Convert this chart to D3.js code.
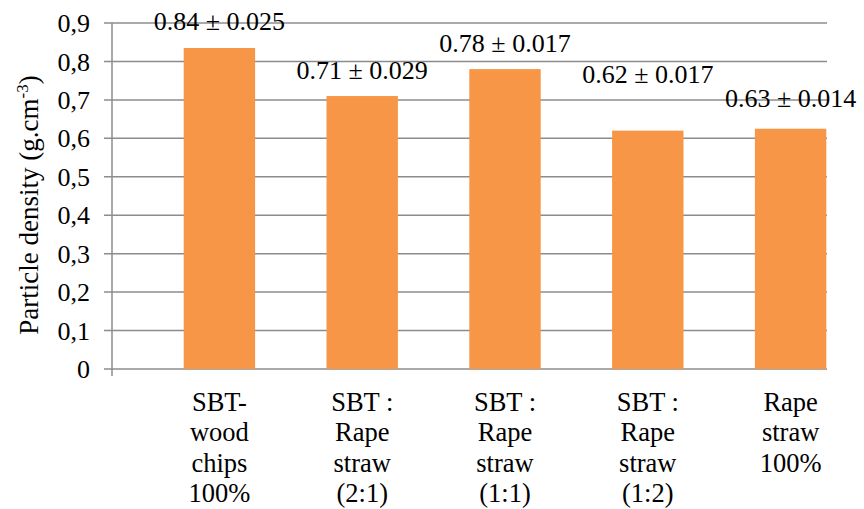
<!DOCTYPE html>
<meta charset="utf-8">
<script src="https://d3js.org/d3.v7.min.js"></script>
<style>
body { margin: 0; background: #fff; }
</style>
<div id="chart"></div>
<script>
// data
var categories = [
  ["SBT-", "wood", "chips", "100%"],
  ["SBT :", "Rape", "straw", "(2:1)"],
  ["SBT :", "Rape", "straw", "(1:1)"],
  ["SBT :", "Rape", "straw", "(1:2)"],
  ["Rape", "straw", "100%"]
];
var density = [0.835, 0.71, 0.78, 0.62, 0.625];
var labels = ["0.84 \u00b1 0.025", "0.71 \u00b1 0.029", "0.78 \u00b1 0.017", "0.62 \u00b1 0.017", "0.63 \u00b1 0.014"];
var yTicks = [0, 0.1, 0.2, 0.3, 0.4, 0.5, 0.6, 0.7, 0.8, 0.9];

// label lift above the bar top (px), as the labels were placed by hand
var labelLift = [18, 17, 17, 48, 22];

var font = "'Liberation Serif'";
var width = 864, height = 509;
var svg = d3.select("#chart").append("svg")
    .attr("width", width)
    .attr("height", height);

var axisX = 112, gridRight = 827;

var x = d3.scaleBand()
    .domain(d3.range(categories.length))
    .range([148, 862])
    .paddingInner(0.5)
    .paddingOuter(0.25);

var y = d3.scaleLinear()
    .domain([0, 0.9])
    .range([369, 23]);

// gridlines + ticks
svg.append("g").selectAll("line")
  .data(yTicks)
  .enter().append("line")
    .attr("x1", axisX - 8)
    .attr("x2", gridRight)
    .attr("y1", function(d) { return y(d); })
    .attr("y2", function(d) { return y(d); })
    .attr("stroke", "#8c8c8c")
    .attr("stroke-width", 1.5);

// tick labels
svg.append("g").selectAll("text")
  .data(yTicks)
  .enter().append("text")
    .attr("x", 90)
    .attr("y", function(d) { return y(d); })
    .attr("dy", "0.35em")
    .attr("text-anchor", "end")
    .style("font-family", font)
    .style("font-size", "26px")
    .text(function(d) { return d3.format(".1f")(d).replace(".", ",").replace(/^0,0$/, "0"); });

// bars
svg.append("g").selectAll("rect")
  .data(density)
  .enter().append("rect")
    .attr("x", function(d, i) { return x(i); })
    .attr("width", x.bandwidth())
    .attr("y", function(d) { return y(d); })
    .attr("height", function(d) { return y(0) - y(d); })
    .attr("fill", "#f79646");

// y axis line
svg.append("line")
    .attr("x1", axisX).attr("x2", axisX)
    .attr("y1", y(0.9)).attr("y2", y(0) + 7)
    .attr("stroke", "#8c8c8c")
    .attr("stroke-width", 1.5);

// value labels
svg.append("g").selectAll("text")
  .data(labels)
  .enter().append("text")
    .attr("x", function(d, i) { return x(i) + x.bandwidth() / 2; })
    .attr("y", function(d, i) { return y(density[i]) - labelLift[i]; })
    .attr("text-anchor", "middle")
    .style("font-family", font)
    .style("font-size", "26px")
    .text(function(d) { return d; });

// category labels
var cat = svg.append("g").selectAll("text")
  .data(categories)
  .enter().append("text")
    .attr("text-anchor", "middle")
    .style("font-family", font)
    .style("font-size", "26.5px")
    .attr("transform", function(d, i) { return "translate(" + (x(i) + x.bandwidth() / 2) + ",411)"; });

cat.selectAll("tspan")
  .data(function(d) { return d; })
  .enter().append("tspan")
    .attr("x", 0)
    .attr("y", function(d, j) { return j * 30.3; })
    .text(function(d) { return d; });

// y axis title
var title = svg.append("text")
    .attr("transform", "translate(38,205) rotate(-90)")
    .attr("text-anchor", "middle")
    .style("font-family", font)
    .style("font-size", "27px");
title.append("tspan").text("Particle density (g.cm");
title.append("tspan").attr("dy", "-10").style("font-size", "17px").text("-3");
title.append("tspan").attr("dy", "10").text(")");
</script>
